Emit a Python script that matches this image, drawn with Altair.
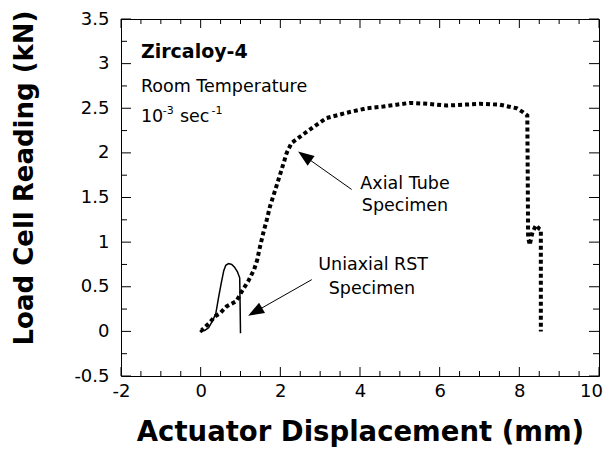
import altair as alt
import pandas as pd

# Axial tube specimen (dotted curve)
axial_x = [0.0, 0.02, 0.23, 0.36, 0.48, 0.65, 0.9, 1.05, 1.19, 1.34, 1.42, 1.47, 1.57, 1.66, 1.74,
           1.82, 2.03, 2.16, 2.28, 2.49, 2.83, 3.16, 3.67, 4.17, 4.58, 4.92, 5.25, 5.7, 6.18, 6.6,
           7.01, 7.51, 7.93, 8.08, 8.2, 8.21, 8.22, 8.26, 8.33, 8.42, 8.5, 8.54, 8.54]
axial_y = [0.02, 0.01, 0.1, 0.17, 0.2, 0.28, 0.34, 0.46, 0.56, 0.69, 0.8, 0.91, 1.1, 1.25, 1.4,
           1.51, 1.81, 2.0, 2.11, 2.18, 2.29, 2.39, 2.45, 2.5, 2.52, 2.54, 2.56, 2.55, 2.53, 2.54,
           2.55, 2.54, 2.5, 2.46, 2.42, 1.8, 1.06, 0.97, 1.11, 1.19, 1.15, 1.14, 0.0]

# Uniaxial RST specimen (solid curve)
rst_x = [0.0, 0.1, 0.2, 0.3, 0.38, 0.45, 0.52, 0.58, 0.63, 0.7, 0.78, 0.85, 0.92, 0.98, 0.99, 1.0]
rst_y = [0.0, 0.01, 0.04, 0.12, 0.2, 0.38, 0.55, 0.68, 0.74, 0.76, 0.75, 0.72, 0.67, 0.6, 0.3, -0.02]

x_major = [-2, 0, 2, 4, 6, 8, 10]
x_minor = [-1.5, -1, -0.5, 0.5, 1, 1.5, 2.5, 3, 3.5, 4.5, 5, 5.5, 6.5, 7, 7.5, 8.5, 9, 9.5]
y_major = [-0.5, 0, 0.5, 1, 1.5, 2, 2.5, 3, 3.5]
y_minor = [-0.25, 0.25, 0.75, 1.25, 1.75, 2.25, 2.75, 3.25]

# Arrows: tail -> head position
arrow_axial = {"x": [3.79, 2.65], "y": [1.59, 1.95]}
arrow_rst = {"x": [2.79, 1.41], "y": [0.58, 0.23]}

labels_text = ["Axial Tube", "Specimen", "Uniaxial RST", "Specimen"]
labels_x = [5.13, 5.13, 4.33, 4.3]
labels_y = [1.65, 1.40, 0.74, 0.48]

W, H = 478, 357
FONT = "DejaVu Sans"

xs = alt.Scale(domain=[-2, 10], nice=False, zero=False)
ys = alt.Scale(domain=[-0.5, 3.5], nice=False, zero=False)
xaxis = alt.Axis(values=x_major, ticks=False, domain=False, grid=False, labelFontSize=18,
                 labelColor="black", labelFont=FONT, labelPadding=6, titleFontSize=27.5,
                 titleFont=FONT, titleFontWeight="bold", titleColor="black", titlePadding=18,
                 labelFlush=False, labelExpr="toString(datum.value)",
                 labelOffset={"condition": {"test": "datum.value == 10", "value": -8}, "value": 0})
yaxis = alt.Axis(values=y_major, ticks=False, domain=False, grid=False, labelFontSize=18,
                 labelColor="black", labelFont=FONT, labelPadding=12,
                 labelFlush=False, labelExpr="toString(datum.value)")
X = alt.X("x:Q", scale=xs, axis=xaxis, title="Actuator Displacement (mm)")
Y = alt.Y("y:Q", scale=ys, axis=yaxis, title=None)

df_axial = pd.DataFrame({"x": axial_x, "y": axial_y, "o": range(len(axial_x))})
df_rst = pd.DataFrame({"x": rst_x, "y": rst_y, "o": range(len(rst_x))})

axial = alt.Chart(df_axial).mark_line(color="black", strokeWidth=4, strokeDash=[4, 3],
                                      strokeCap="butt").encode(x=X, y=Y, order="o:Q")
rst = alt.Chart(df_rst).mark_line(color="black", strokeWidth=1.5).encode(x=X, y=Y, order="o:Q")

dxm = pd.DataFrame({"x": x_major})
dxn = pd.DataFrame({"x": x_minor})
dym = pd.DataFrame({"y": y_major})
dyn = pd.DataFrame({"y": y_minor})

ticks = []
for d, L in [(dxm, 9), (dxn, 5)]:
    ticks.append(alt.Chart(d).mark_rule(color="black", strokeWidth=1).encode(
        x=X, y=alt.value(H), y2=alt.value(H - L)))
    ticks.append(alt.Chart(d).mark_rule(color="black", strokeWidth=1).encode(
        x=X, y=alt.value(0), y2=alt.value(L)))
for d, L in [(dym, 10), (dyn, 6)]:
    ticks.append(alt.Chart(d).mark_rule(color="black", strokeWidth=1).encode(
        y=Y, x=alt.value(0), x2=alt.value(L)))
    ticks.append(alt.Chart(d).mark_rule(color="black", strokeWidth=1).encode(
        y=Y, x=alt.value(W), x2=alt.value(W - L)))

HEAD = "M0,-1L-0.6,0.6L0.6,0.6Z"
arrows = []
for a, ang in [(arrow_axial, 305.6), (arrow_rst, 240.4)]:
    da = pd.DataFrame({"x": a["x"], "y": a["y"], "o": [0, 1]})
    arrows.append(alt.Chart(da).mark_line(color="black", strokeWidth=1).encode(x=X, y=Y, order="o:Q"))
    arrows.append(alt.Chart(da.iloc[[1]]).mark_point(shape=HEAD, filled=True, size=400,
                                                      color="black", opacity=1, angle=ang,
                                                      strokeWidth=0)
                  .encode(x=X, y=Y))

dl = pd.DataFrame({"x": labels_x, "y": labels_y, "t": labels_text})
labels = alt.Chart(dl).mark_text(font=FONT, fontSize=17.5, color="black", align="center",
                                 baseline="middle").encode(x=X, y=Y, text="t:N")

def txt(t, x, y, size, weight="normal"):
    d = pd.DataFrame({"x": [x], "y": [y], "t": [t]})
    return alt.Chart(d).mark_text(font=FONT, fontSize=size, fontWeight=weight, color="black",
                                  align="left", baseline="middle").encode(x=X, y=Y, text="t:N")

notes = [
    txt("Zircaloy-4", -1.5, 3.13, 19, "bold"),
    txt("Room Temperature", -1.5, 2.74, 17.5),
    txt("10", -1.5, 2.40, 17.5),
    txt("-3", -0.95, 2.47, 11),
    txt("sec", -0.52, 2.40, 17.5),
    txt("-1", 0.27, 2.47, 11),
]

ytitle = alt.Chart(pd.DataFrame({"t": ["Load Cell Reading (kN)"]})).mark_text(
    font=FONT, fontSize=26, fontWeight="bold", color="black", angle=270,
    align="center", baseline="middle").encode(
    text="t:N", x=alt.value(-96), y=alt.value(159))

chart = alt.layer(axial, rst, *ticks, *arrows, labels, *notes, ytitle).properties(
    width=W, height=H,
    autosize=alt.AutoSizeParams(type="none"),
    padding={"left": 113, "top": 11, "right": 4, "bottom": 71},
    background="white",
).configure_view(stroke="black", strokeWidth=1)

chart.save("out.html", embed_options={"renderer": "svg", "actions": False})
